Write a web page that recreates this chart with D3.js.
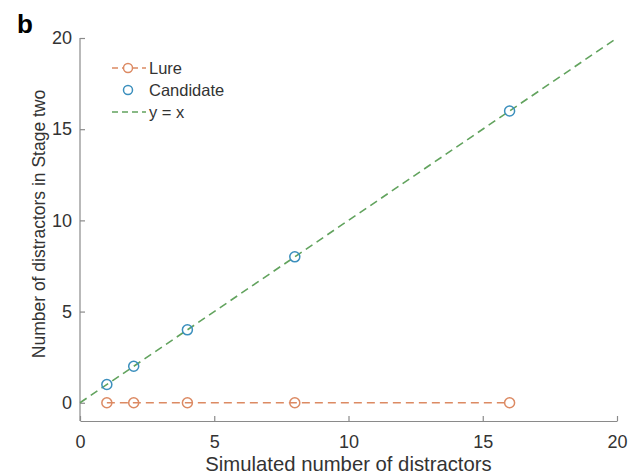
<!DOCTYPE html>
<html>
<head>
<meta charset="utf-8">
<script src="https://cdn.jsdelivr.net/npm/d3@7"></script>
<style>
  body { margin: 0; background: #fff; }
  text { font-family: "Liberation Sans", Arial, sans-serif; }
</style>
</head>
<body>
<svg id="chart" width="641" height="475"></svg>
<script>
// Simulated distractor counts and the number reaching stage two
const distractors = [1, 2, 4, 8, 16];
const lureValues = [0, 0, 0, 0, 0];
const candidateValues = [1, 2, 4, 8, 16];
const identityLine = [0, 20];
const xTicks = [0, 5, 10, 15, 20];
const yTicks = [0, 5, 10, 15, 20];

const colors = { lure: "#dc8a63", candidate: "#3b8fbd", identity: "#62a35e", axis: "#8a8a8a", text: "#333" };

const svg = d3.select("#chart");
const x = d3.scaleLinear().domain([0, 20]).range([80, 617]);
const y = d3.scaleLinear().domain([-1, 20]).range([421, 38]);

// Axes (MATLAB-style: inward ticks, no box)
const xAxis = d3.axisBottom(x).tickValues(xTicks).tickSizeInner(-5).tickSizeOuter(0).tickPadding(12);
const yAxis = d3.axisLeft(y).tickValues(yTicks).tickSizeInner(-5).tickSizeOuter(0).tickPadding(8);

const gx = svg.append("g").attr("transform", `translate(0,${y(-1)})`).call(xAxis);
const gy = svg.append("g").attr("transform", `translate(${x(0)},0)`).call(yAxis);
gy.select(".domain").attr("d", `M0,${y(-1)}V${y(20)}`);
[gx, gy].forEach(g => {
  g.select(".domain").attr("stroke", colors.axis).attr("stroke-width", 1.2);
  g.selectAll(".tick line").attr("stroke", colors.axis).attr("stroke-width", 1.2);
  g.selectAll(".tick text").attr("fill", colors.text).style("font-size", "18px");
});
gx.selectAll(".tick text").attr("dy", "0.85em");

// Axis titles
svg.append("text").attr("x", x(10)).attr("y", 471).attr("text-anchor", "middle")
  .attr("fill", colors.text).style("font-size", "20.3px").text("Simulated number of distractors");
svg.append("text").attr("transform", `translate(45,224) rotate(-90)`).attr("text-anchor", "middle")
  .attr("fill", colors.text).style("font-size", "17.5px").text("Number of distractors in Stage two");

// Panel letter
svg.append("text").attr("x", 17).attr("y", 33).attr("fill", "#000")
  .style("font-size", "26px").style("font-weight", "bold").text("b");

// y = x reference line
svg.append("line")
  .attr("x1", x(identityLine[0])).attr("y1", y(identityLine[0]))
  .attr("x2", x(identityLine[1])).attr("y2", y(identityLine[1]))
  .attr("stroke", colors.identity).attr("stroke-width", 1.6).attr("stroke-dasharray", "8,5");

// Lure series: dashed line with circle markers
const lureData = distractors.map((d, i) => [d, lureValues[i]]);
svg.append("path").datum(lureData)
  .attr("d", d3.line().x(d => x(d[0])).y(d => y(d[1])))
  .attr("fill", "none").attr("stroke", colors.lure).attr("stroke-width", 1.6).attr("stroke-dasharray", "8,5");
svg.selectAll(".lure").data(lureData).join("circle")
  .attr("cx", d => x(d[0])).attr("cy", d => y(d[1])).attr("r", 5)
  .attr("fill", "none").attr("stroke", colors.lure).attr("stroke-width", 1.5);

// Candidate series: markers only
const candData = distractors.map((d, i) => [d, candidateValues[i]]);
svg.selectAll(".cand").data(candData).join("circle")
  .attr("cx", d => x(d[0])).attr("cy", d => y(d[1])).attr("r", 5)
  .attr("fill", "none").attr("stroke", colors.candidate).attr("stroke-width", 1.5);

// Legend
const legend = svg.append("g").attr("transform", "translate(112,0)");
const rows = [
  { label: "Lure", color: colors.lure, line: true, marker: true, y: 68 },
  { label: "Candidate", color: colors.candidate, line: false, marker: true, y: 90 },
  { label: "y = x", color: colors.identity, line: true, marker: false, y: 112 }
];
rows.forEach(r => {
  if (r.line) {
    legend.append("line").attr("x1", 0).attr("x2", 34).attr("y1", r.y).attr("y2", r.y)
      .attr("stroke", r.color).attr("stroke-width", 1.6).attr("stroke-dasharray", "6,4");
  }
  if (r.marker) {
    legend.append("circle").attr("cx", 16).attr("cy", r.y).attr("r", 4.5)
      .attr("fill", r.line ? "#fff" : "none").attr("stroke", r.color).attr("stroke-width", 1.5);
  }
  legend.append("text").attr("x", 37).attr("y", r.y).attr("dy", "0.35em")
    .attr("fill", colors.text).style("font-size", "16.5px").text(r.label);
});
</script>
</body>
</html>
